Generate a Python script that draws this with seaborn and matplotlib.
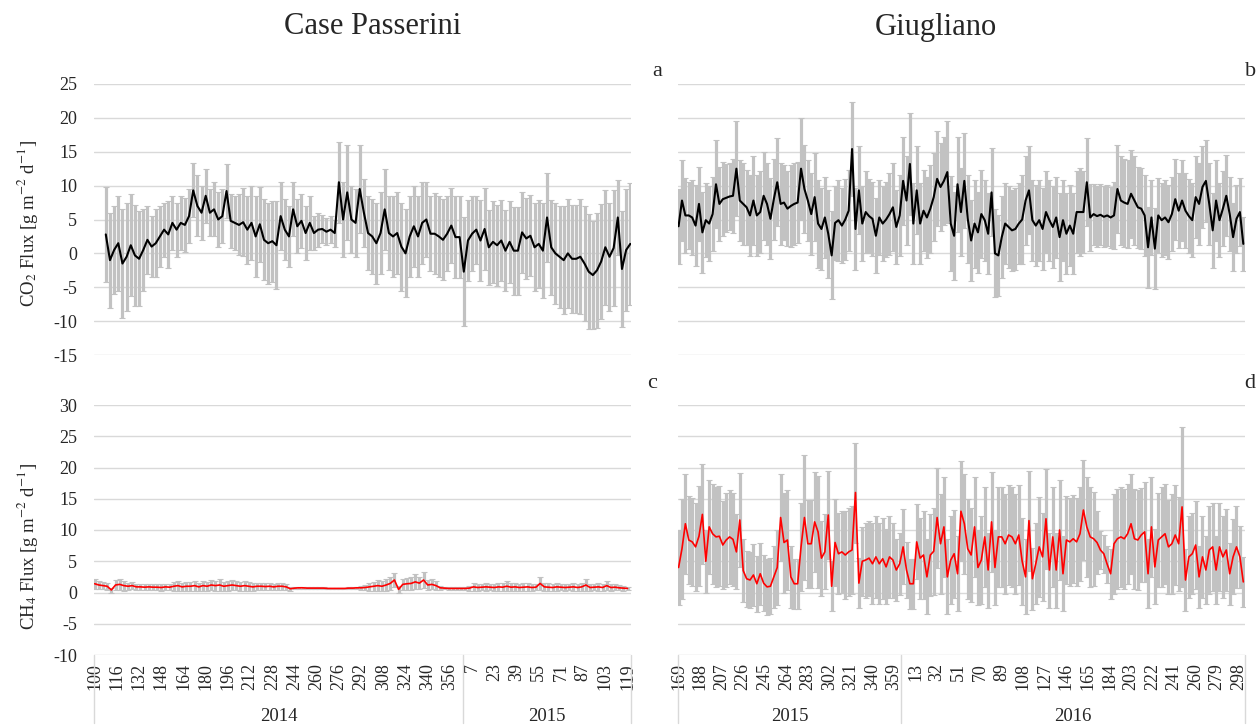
import numpy as np
import pandas as pd
import matplotlib
matplotlib.use("Agg")
import matplotlib.pyplot as plt
import matplotlib.transforms as mtransforms
import seaborn as sns

# ---- data (one value every 3 days) ----
# Case Passerini: day 100 of 2014 -> day ~124 of 2015 (index 0 = day 100)
cp_co2_start = 8
cp_co2_flux = [
    2.8, -1.0, 0.5, 1.5, -1.5, -0.5, 1.2, -0.3, -0.8,
    0.5, 2.0, 1.0, 1.5, 2.5, 3.5, 2.8, 4.5, 3.5, 4.5, 4.2, 5.5,
    9.3, 7.0, 6.0, 8.5, 6.0, 6.5, 5.0, 5.5, 9.2, 4.8, 4.5, 4.2,
    4.6, 3.5, 4.5, 2.5, 4.3, 2.0, 1.5, 1.8, 1.2, 5.5, 3.5, 2.5,
    6.5, 4.0, 4.8, 3.0, 4.5, 3.0, 3.5, 3.6, 3.2, 3.5, 3.0, 10.5,
    5.0, 9.0, 5.0, 4.5, 9.5, 6.0, 3.0, 2.5, 1.5, 3.0, 6.5, 3.0,
    2.5, 3.0, 1.0, 0.0, 2.5, 4.0, 2.5, 4.5, 5.0, 2.9, 2.9, 2.5,
    2.0, 2.9, 4.1, 2.4, 2.4, -2.7, 1.9, 2.9, 3.5, 1.9, 3.6, 0.9,
    1.7, 1.2, 1.9, 0.4, 1.7, 0.4, 0.4, 3.1, 2.2, 2.6, 0.9, 1.4,
    0.4, 5.3, 0.9, 0.0, -0.5, -1.0, 0.0, -0.8, -0.8, -0.5, -1.5, -2.7,
    -3.2, -2.5, -1.2, 0.9, -0.5, 0.8, 5.3, -2.3, 0.5, 1.4,
]
cp_co2_sd = [
    7, 7, 6.5, 7, 8, 8, 7.5, 7.5, 7,
    6, 5, 4.5, 5, 4.5, 4, 5, 4, 4, 4, 4, 4,
    4, 4.5, 4, 4, 3.5, 4, 4, 4, 4, 4, 4, 4.5,
    5, 5, 5.5, 6, 5.5, 6, 6, 6, 6.5, 5, 4.5, 4.5,
    4, 4, 4, 4, 4, 2.5, 2.5, 2, 2, 2, 2, 6,
    5.5, 7, 5, 5, 6.5, 5, 5.5, 5.5, 6, 6, 6, 5.5,
    6, 6, 6.5, 6.5, 6, 6, 6, 6, 5.5, 5.5, 6, 6,
    6, 5.5, 5.5, 6, 6, 8, 6, 5.5, 5, 6, 6, 5.5,
    6, 6, 6, 6, 6, 6.5, 6.5, 6, 6, 6, 6.5, 6.5,
    7, 6.5, 7, 7.5, 7.5, 8, 8, 8, 8, 8.5, 8.5, 8.5,
    8, 8.5, 8.5, 8.5, 8, 8.5, 5.5, 8.5, 9, 9,
]
cp_ch4_start = 0
cp_ch4_flux = [
    1.4, 1.2, 1.1, 1.0, 0.4, 1.2, 1.3, 1.1, 1.0, 1.1, 0.9,
    0.9, 0.85, 0.9, 0.85, 0.85, 0.8, 0.9, 0.85, 1.0, 1.1, 0.9, 1.0,
    1.0, 1.1, 0.9, 1.1, 1.0, 1.2, 1.1, 1.2, 1.0, 1.1, 1.2, 1.1,
    1.0, 1.1, 1.0, 0.9, 1.0, 1.0, 0.95, 1.0, 0.9, 1.0, 1.0, 0.9,
    0.6, 0.7, 0.75, 0.75, 0.7, 0.7, 0.7, 0.7, 0.7, 0.65, 0.65, 0.65,
    0.65, 0.65, 0.7, 0.7, 0.75, 0.75, 0.8, 0.9, 1.0, 1.1, 1.0, 1.2,
    1.45, 2.0, 0.5, 1.3, 1.4, 1.45, 1.7, 1.5, 2.0, 1.2, 1.3, 1.1,
    0.75, 0.7, 0.65, 0.65, 0.65, 0.65, 0.65, 0.7, 0.9, 0.8, 0.85, 0.9,
    0.85, 0.8, 0.9, 0.85, 1.0, 0.85, 0.9, 0.8, 0.85, 0.9, 0.8, 0.85,
    1.45, 0.9, 0.85, 0.8, 0.9, 0.85, 0.8, 0.85, 0.9, 0.8, 0.9, 1.2,
    0.8, 0.85, 0.9, 0.8, 1.1, 0.8, 0.85, 0.75, 0.7, 0.65,
]
cp_ch4_sd = [
    0.8, 0.7, 0.6, 0.6, 0.4, 0.8, 0.9, 0.8, 0.6, 0.6, 0.5,
    0.5, 0.5, 0.5, 0.5, 0.5, 0.5, 0.5, 0.5, 0.7, 0.8, 0.6, 0.7,
    0.7, 0.8, 0.6, 0.8, 0.7, 0.8, 0.8, 0.9, 0.7, 0.8, 0.8, 0.7,
    0.7, 0.8, 0.7, 0.6, 0.6, 0.6, 0.6, 0.6, 0.5, 0.6, 0.6, 0.5,
    0.3, 0.2, 0.2, 0.2, 0.2, 0.2, 0.2, 0.2, 0.2, 0.15, 0.15, 0.15,
    0.15, 0.15, 0.2, 0.2, 0.2, 0.3, 0.4, 0.6, 0.7, 0.9, 0.8, 0.9,
    1.0, 1.1, 0.6, 0.9, 1.0, 1.0, 1.2, 1.0, 1.3, 0.8, 0.8, 0.7,
    0.3, 0.2, 0.2, 0.2, 0.2, 0.2, 0.3, 0.4, 0.6, 0.5, 0.5, 0.6,
    0.5, 0.5, 0.6, 0.6, 0.8, 0.6, 0.6, 0.5, 0.6, 0.6, 0.5, 0.5,
    1.0, 0.6, 0.6, 0.5, 0.6, 0.5, 0.5, 0.5, 0.6, 0.5, 0.6, 0.9,
    0.5, 0.5, 0.6, 0.5, 0.7, 0.5, 0.5, 0.4, 0.4, 0.3,
]

# Giugliano: day 169 of 2015 -> day ~303 of 2016 (index 0 = day 169)
g_start = 0
g_co2_flux = [
    4.0, 7.8, 5.6, 5.6, 5.3, 4.1, 7.3, 3.1, 4.9, 4.4, 5.8, 10.2,
    7.3, 8.0, 8.2, 8.4, 8.5, 12.5, 7.8, 7.3, 6.8, 5.6, 7.8, 5.6,
    6.1, 8.5, 7.3, 5.1, 8.0, 10.5, 7.3, 7.5, 6.6, 7.0, 7.3, 7.5,
    12.5, 9.5, 7.8, 5.8, 8.3, 4.4, 3.6, 5.3, 2.9, -0.3, 4.5, 4.9,
    4.1, 5.0, 6.3, 15.4, 3.6, 9.3, 4.4, 6.1, 5.5, 5.1, 2.6, 5.3,
    4.4, 5.0, 5.8, 6.8, 3.9, 5.6, 10.7, 7.8, 13.2, 4.4, 9.3, 4.4,
    6.3, 5.3, 6.6, 8.3, 11.0, 9.8, 10.7, 12.0, 4.4, 2.6, 10.2, 6.1,
    10.7, 5.1, 1.9, 4.4, 3.1, 5.8, 4.9, 2.9, 9.0, 0.0, -0.3, 2.4,
    4.4, 3.9, 3.4, 3.6, 4.4, 5.0, 7.8, 9.3, 4.9, 4.1, 4.9, 3.6,
    6.1, 4.9, 3.9, 5.3, 2.4, 4.9, 2.9, 4.1, 2.9, 6.1, 6.1, 6.1,
    10.5, 5.3, 5.8, 5.5, 5.7, 5.4, 5.6, 5.3, 5.6, 9.5, 7.8, 7.5,
    7.3, 8.8, 7.8, 6.8, 6.6, 5.6, 0.9, 5.3, 0.7, 5.6, 4.9, 5.3,
    4.6, 5.8, 8.0, 6.3, 7.8, 6.3, 5.5, 4.9, 8.3, 7.3, 9.8, 10.7,
    7.3, 3.4, 7.8, 4.9, 6.6, 8.5, 5.8, 2.4, 5.1, 6.1, 1.4,
]
g_co2_sd = [
    5.5, 6.0, 5.5, 5.0, 5.5, 6.0, 5.5, 6.0, 5.5, 5.5, 5.5, 6.5,
    5.5, 5.5, 5.0, 5.0, 5.5, 7.0, 6.0, 6.0, 5.5, 6.0, 6.5, 6.0,
    6.0, 6.5, 6.0, 6.0, 6.0, 6.5, 6.0, 5.5, 5.5, 6.0, 6.0, 6.0,
    7.5, 6.5, 6.0, 6.0, 6.5, 6.5, 6.0, 6.0, 6.5, 6.5, 5.5, 6.0,
    5.5, 6.0, 6.0, 7.0, 6.0, 6.5, 5.5, 6.0, 5.5, 5.5, 5.5, 5.5,
    5.5, 5.5, 6.0, 6.5, 5.5, 6.0, 6.5, 6.5, 7.5, 6.0, 6.5, 6.0,
    6.0, 6.0, 6.5, 6.5, 7.0, 6.5, 6.5, 7.5, 7.0, 6.5, 7.0, 6.5,
    7.0, 6.5, 6.0, 6.5, 6.0, 6.5, 6.0, 6.0, 6.5, 6.5, 6.0, 6.0,
    6.0, 6.0, 6.0, 6.0, 6.0, 6.5, 6.5, 6.5, 6.0, 6.0, 6.0, 6.0,
    6.0, 6.0, 6.0, 6.0, 6.5, 6.0, 6.0, 6.0, 6.0, 6.0, 6.5, 6.0,
    6.5, 5.0, 4.5, 4.5, 4.5, 4.5, 4.5, 4.5, 5.0, 6.5, 6.5, 6.5,
    6.5, 6.5, 6.5, 6.0, 6.0, 6.0, 6.0, 5.5, 6.0, 5.5, 5.5, 5.5,
    5.5, 5.5, 6.0, 5.5, 6.0, 5.5, 5.5, 5.5, 6.0, 6.0, 6.0, 6.0,
    6.0, 5.5, 6.0, 5.5, 5.5, 6.0, 5.5, 5.0, 5.0, 5.0, 4.0,
]
g_ch4_flux = [
    4.0, 7.0, 11.0, 8.4, 8.1, 7.3, 9.0, 12.5, 5.0, 10.5, 9.4, 8.9,
    9.0, 7.6, 8.4, 8.9, 8.5, 6.5, 11.6, 3.5, 2.2, 2.0, 2.8, 1.4,
    3.0, 1.5, 0.9, 1.0, 2.5, 4.0, 12.0, 8.0, 8.4, 2.5, 1.4, 1.4,
    7.3, 12.0, 7.8, 7.8, 11.3, 9.7, 5.5, 6.5, 12.4, 1.0, 8.0, 6.2,
    6.5, 6.0, 6.5, 6.8, 16.0, 1.5, 5.0, 5.2, 5.5, 4.6, 5.7, 4.6,
    5.4, 4.1, 5.7, 5.2, 3.6, 4.6, 7.3, 3.6, 1.4, 1.4, 8.1, 5.5,
    6.0, 2.5, 6.0, 6.6, 12.0, 7.8, 10.5, 2.5, 5.2, 6.2, 3.0, 13.0,
    11.0, 7.0, 6.0, 10.5, 4.0, 5.2, 8.9, 3.6, 11.3, 4.0, 8.9, 8.9,
    7.8, 9.2, 8.9, 7.8, 9.2, 5.0, 2.5, 11.5, 2.2, 4.6, 7.3, 5.7,
    11.8, 3.6, 8.9, 3.6, 10.0, 3.0, 8.4, 8.1, 8.6, 8.1, 9.4, 13.2,
    10.5, 8.9, 8.6, 8.0, 6.8, 6.2, 4.5, 3.0, 7.8, 8.6, 8.9, 8.6,
    9.4, 11.0, 8.6, 8.4, 9.2, 9.7, 3.0, 10.5, 4.1, 8.4, 8.9, 9.4,
    7.3, 7.8, 9.2, 7.8, 13.7, 2.0, 5.7, 6.2, 7.6, 2.5, 5.7, 3.6,
    6.8, 7.3, 3.6, 7.3, 5.7, 6.8, 3.0, 5.7, 7.3, 5.7, 1.7,
]
g_ch4_sd = [
    6, 8, 8, 7, 7, 7, 8, 8, 5, 7.5, 8, 8,
    8, 7, 7.5, 7.5, 7.5, 6, 7.5, 5, 4.5, 4.5, 5, 4.5,
    5, 4.5, 4.5, 4.5, 5, 6, 7, 8, 8, 5, 4, 4,
    7, 10, 7, 7, 8, 9, 6, 6, 7, 4, 7, 6.5,
    6.5, 7, 7, 7, 8, 4, 5.5, 6, 6, 6.5, 6.5, 6.5,
    6.5, 6, 6.5, 6, 5, 5, 6, 4.5, 4, 4, 6, 6.5,
    7, 6, 6.5, 7, 8, 8, 8, 6, 7, 7, 6, 8,
    8, 8, 7.5, 8, 6, 7, 8, 6, 8, 6, 8, 8,
    8, 8, 8, 8, 8, 7, 6, 8, 5, 6.5, 8, 7,
    8, 6, 8, 6, 8, 6, 7, 7, 7, 7, 7.5, 8,
    8, 8, 7.5, 5, 3, 3, 3, 4, 8, 8, 8, 8,
    8, 8, 8, 8, 7.5, 8, 5.5, 8, 6, 7.5, 8, 8,
    7.5, 8, 8, 7.5, 12.8, 5, 6.5, 6.5, 7, 5, 6.5, 5.5,
    7, 7, 5.5, 7, 6.5, 6.5, 5, 6, 6.5, 5, 4,
]
step_days = 3

# category axis labels (day of year) and years
cp_tick_labels = [100, 116, 132, 148, 164, 180, 196, 212, 228, 244, 260, 276,
                  292, 308, 324, 340, 356, 7, 23, 39, 55, 71, 87, 103, 119]
g_tick_labels = [169, 188, 207, 226, 245, 264, 283, 302, 321, 340, 359,
                 13, 32, 51, 70, 89, 108, 127, 146, 165, 184, 203, 222,
                 241, 260, 279, 298]
cp_years = ["2014", "2015"]
g_years = ["2015", "2016"]
cp_days_first_year = 266   # days 100..365 of 2014
g_days_first_year = 197    # days 169..365 of 2015
cp_ndays = 387
g_ndays = 500


def frame(start, flux, sd):
    idx = start + step_days * np.arange(len(flux))
    return pd.DataFrame({"idx": idx, "flux": flux, "sd": sd})


sns.set_style("white")
plt.rcParams["font.family"] = ["Liberation Serif", "DejaVu Serif"]
plt.rcParams["mathtext.fontset"] = "stix"
plt.rcParams["axes.unicode_minus"] = False

W, H = 1258, 726
fig = plt.figure(figsize=(W / 100, H / 100), dpi=100)


def px_axes(x0, x1, y0, y1):
    return fig.add_axes([x0 / W, 1 - y1 / H, (x1 - x0) / W, (y1 - y0) / H])


ax_a = px_axes(94, 631, 84, 355)
ax_b = px_axes(678, 1245, 84, 355)
ax_c = px_axes(94, 631, 405, 655)
ax_d = px_axes(678, 1245, 405, 655)

grid_col = "#d9d9d9"
err_col = "#c2c2c2"

panels = [
    (ax_a, frame(cp_co2_start, cp_co2_flux, cp_co2_sd), "black", 1.5, (-15, 25), cp_ndays),
    (ax_b, frame(g_start, g_co2_flux, g_co2_sd), "black", 1.5, (-15, 25), g_ndays),
    (ax_c, frame(cp_ch4_start, cp_ch4_flux, cp_ch4_sd), "#ff0000", 1.2, (-10, 30), cp_ndays),
    (ax_d, frame(g_start, g_ch4_flux, g_ch4_sd), "#ff0000", 1.2, (-10, 30), g_ndays),
]

for ax, df, col, lw, ylim, ndays in panels:
    ax.errorbar(df["idx"], df["flux"], yerr=df["sd"], fmt="none",
                ecolor=err_col, elinewidth=2.3, capsize=2.5, capthick=0.8,
                zorder=2)
    sns.lineplot(data=df, x="idx", y="flux", ax=ax, color=col, linewidth=lw,
                 zorder=3)
    ax.set_ylim(*ylim)
    ax.set_yticks(np.arange(ylim[0], ylim[1] + 1, 5))
    ax.set_xlim(-0.5, ndays - 0.5)
    ax.yaxis.grid(True, color=grid_col, linewidth=1.0, zorder=0)
    ax.xaxis.grid(False)
    for s in ax.spines.values():
        s.set_visible(False)
    ax.set_xlabel("")
    ax.set_ylabel("")
    ax.tick_params(axis="y", length=0, pad=12, labelsize=13)
    ax.set_xticks([])

for ax in (ax_b, ax_d):
    ax.tick_params(labelleft=False)


def category_axis(ax, labels, spacing, first_year, ndays, years):
    ax.set_xticks(np.arange(len(labels)) * spacing)
    ax.set_xticklabels([str(v) for v in labels], rotation=90, fontsize=13)
    ax.tick_params(axis="x", length=0, pad=6)
    trans = mtransforms.blended_transform_factory(ax.transData, ax.transAxes)
    for xb in (-0.5, first_year - 0.5, ndays - 0.5):
        ax.plot([xb, xb], [0, -0.27], transform=trans, color=grid_col,
                lw=1.0, clip_on=False)
    centers = [(first_year - 1) / 2, (first_year - 0.5 + ndays - 0.5) / 2]
    for xc, yr in zip(centers, years):
        ax.text(xc, -0.245, yr, transform=trans, ha="center", va="center",
                fontsize=13.5)


category_axis(ax_c, cp_tick_labels, 16, cp_days_first_year, cp_ndays, cp_years)
category_axis(ax_d, g_tick_labels, 19, g_days_first_year, g_ndays, g_years)

fig.text(373 / W, 1 - 27 / H, "Case Passerini", ha="center", va="center", fontsize=22)
fig.text(936 / W, 1 - 27 / H, "Giugliano", ha="center", va="center", fontsize=22)

for letter, (x, y) in zip("abcd", [(657, 72), (1251, 72), (652, 384), (1250, 384)]):
    fig.text(x / W, 1 - y / H, letter, ha="center", va="center", fontsize=16)

fig.text(28 / W, 1 - 224 / H, r"CO$_2$ Flux [g m$^{-2}$ d$^{-1}$]",
         rotation=90, ha="center", va="center", fontsize=13.5)
fig.text(28 / W, 1 - 547 / H, r"CH$_4$ Flux [g m$^{-2}$ d$^{-1}$]",
         rotation=90, ha="center", va="center", fontsize=13.5)

fig.savefig("out.png", dpi=100)
